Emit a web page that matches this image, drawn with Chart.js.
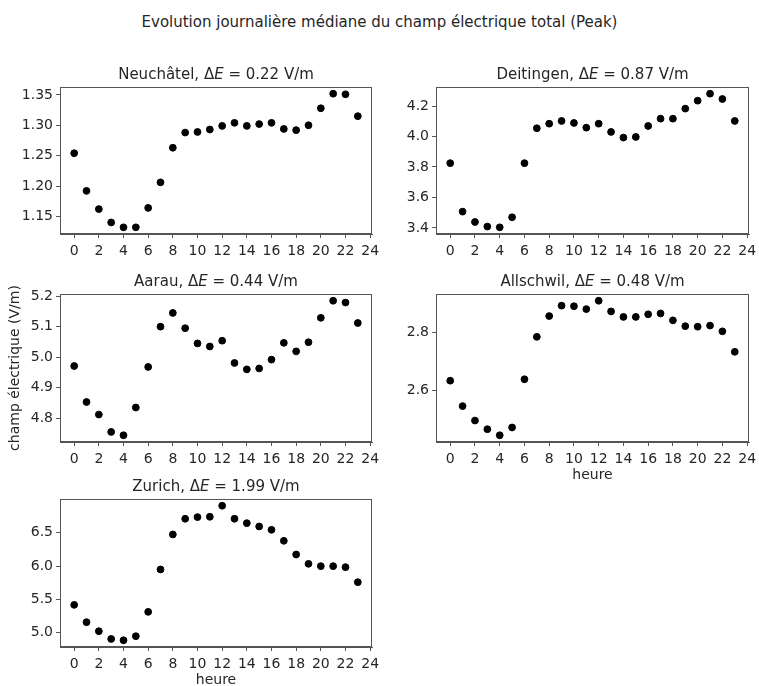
<!DOCTYPE html>
<html>
<head>
<meta charset="utf-8">
<script src="https://cdn.jsdelivr.net/npm/chart.js@4/dist/chart.umd.min.js"></script>
<style>
  html, body { margin: 0; padding: 0; background: #fff; overflow: hidden; }
  body { width: 759px; height: 686px; position: relative; font-family: "DejaVu Sans", sans-serif; }
  #suptitle { position: absolute; left: 0; width: 759px; top: 12px; text-align: center;
              font-size: 15px; line-height: 20px; color: #262626; }
  canvas { position: absolute; }
</style>
</head>
<body>
<div id="suptitle">Evolution journalière médiane du champ électrique total (Peak)</div>

<script>
// Hours of the day (x values) and their tick labels
const hours = [0, 1, 2, 3, 4, 5, 6, 7, 8, 9, 10, 11, 12, 13, 14, 15, 16, 17, 18, 19, 20, 21, 22, 23];
const hourTicks = ['0', '2', '4', '6', '8', '10', '12', '14', '16', '18', '20', '22', '24'];

// Median total electric field per hour (V/m), one array per station
const neuchatel = [1.254, 1.192, 1.162, 1.140, 1.132, 1.132, 1.164, 1.206, 1.263, 1.288, 1.289, 1.293,
                   1.299, 1.304, 1.299, 1.302, 1.304, 1.294, 1.292, 1.300, 1.328, 1.352, 1.351, 1.315];
const deitingen = [3.825, 3.507, 3.439, 3.409, 3.404, 3.470, 3.825, 4.054, 4.084, 4.102, 4.089, 4.058,
                   4.084, 4.030, 3.993, 3.997, 4.069, 4.117, 4.117, 4.183, 4.235, 4.281, 4.246, 4.102];
const aarau     = [4.971, 4.853, 4.812, 4.755, 4.744, 4.835, 4.968, 5.100, 5.145, 5.095, 5.045, 5.035,
                   5.054, 4.981, 4.960, 4.963, 4.992, 5.047, 5.019, 5.049, 5.129, 5.185, 5.179, 5.112];
const allschwil = [2.634, 2.546, 2.496, 2.466, 2.445, 2.472, 2.639, 2.786, 2.858, 2.894, 2.892, 2.882,
                   2.911, 2.874, 2.855, 2.855, 2.864, 2.867, 2.843, 2.823, 2.821, 2.825, 2.805, 2.734];
const zurich    = [5.417, 5.157, 5.021, 4.905, 4.885, 4.946, 5.312, 5.949, 6.475, 6.711, 6.736, 6.741,
                   6.907, 6.711, 6.645, 6.595, 6.545, 6.380, 6.174, 6.034, 5.999, 5.999, 5.984, 5.758];

// Station names, daily amplitude labels and y tick labels
const stations = ['Neuchâtel', 'Deitingen', 'Aarau', 'Allschwil', 'Zurich'];
const deltaE   = ['0.22', '0.87', '0.44', '0.48', '1.99'];
const neuchatelTicks = ['1.15', '1.20', '1.25', '1.30', '1.35'];
const deitingenTicks = ['3.4', '3.6', '3.8', '4.0', '4.2'];
const aarauTicks     = ['4.8', '4.9', '5.0', '5.1', '5.2'];
const allschwilTicks = ['2.6', '2.8'];
const zurichTicks    = ['5.0', '5.5', '6.0', '6.5'];

const yLabel = 'champ électrique (V/m)';
const xLabel = 'heure';

const TEXT = '#262626';
const LINE = '#555';
const FONT = '"DejaVu Sans", sans-serif';

// Frame around the plotting area plus the "Station, ΔE = x V/m" heading (italic E)
const framePlugin = {
  id: 'frame',
  afterDraw(chart, args, opts) {
    const { ctx, chartArea: a } = chart;
    ctx.save();
    ctx.strokeStyle = LINE;
    ctx.lineWidth = 1;
    ctx.strokeRect(Math.round(a.left) + 0.5, Math.round(a.top) + 0.5,
                   Math.round(a.right - a.left) - 1, Math.round(a.bottom - a.top) - 1);
    const parts = [
      { t: opts.name + ', Δ', f: '15px ' + FONT },
      { t: 'E', f: 'italic 15px ' + FONT },
      { t: ' = ' + opts.delta + ' V/m', f: '15px ' + FONT }
    ];
    let w = 0;
    parts.forEach(p => { ctx.font = p.f; p.w = ctx.measureText(p.t).width; w += p.w; });
    let x = (a.left + a.right) / 2 - w / 2;
    const y = a.top - 12;
    ctx.fillStyle = TEXT;
    ctx.textBaseline = 'middle';
    ctx.textAlign = 'left';
    parts.forEach(p => { ctx.font = p.f; ctx.fillText(p.t, x, y); x += p.w; });
    ctx.restore();
  }
};

function makePanel(opts) {
  const { values, ticks, name, delta, box, showY, showX } = opts;
  const padL = box.l, padT = 40, padR = 14, padB = showX ? 46 : 28;
  const canvas = document.createElement('canvas');
  const W = box.r - box.l + padL + padR;
  const H = box.b - box.t + padT + padB;
  canvas.width = W; canvas.height = H;
  canvas.style.left = (box.l - padL) + 'px';
  canvas.style.top = (box.t - padT) + 'px';
  canvas.style.width = W + 'px';
  canvas.style.height = H + 'px';
  document.body.appendChild(canvas);

  // axis limits with a 5 % margin around the data
  const lo = Math.min(...values), hi = Math.max(...values);
  const m = (hi - lo) * 0.05;

  new Chart(canvas, {
    type: 'scatter',
    data: {
      datasets: [{
        data: hours.map((h, i) => ({ x: h, y: values[i] })),
        backgroundColor: '#000',
        borderColor: '#000',
        pointRadius: 3.4,
        pointHoverRadius: 3.4,
        showLine: false
      }]
    },
    options: {
      responsive: false,
      animation: false,
      devicePixelRatio: 1,
      layout: { padding: { top: padT, right: padR, left: 0, bottom: 0 } },
      plugins: {
        legend: { display: false },
        tooltip: { enabled: false },
        frame: { name, delta }
      },
      scales: {
        x: {
          type: 'linear',
          min: -1.15, max: 24.15,
          afterBuildTicks: ax => { ax.ticks = hourTicks.map(t => ({ value: parseFloat(t) })); },
          afterFit: ax => { ax.height = padB; },
          ticks: { color: TEXT, font: { family: FONT, size: 14 }, padding: 5, maxRotation: 0,
                   autoSkip: false, callback: v => String(v) },
          grid: { drawOnChartArea: false, drawTicks: true, tickLength: 4, tickColor: LINE },
          border: { display: true, color: LINE },
          title: { display: !!showX, text: xLabel, color: TEXT, font: { family: FONT, size: 14 },
                   padding: { top: 0, bottom: 4 } }
        },
        y: {
          type: 'linear',
          min: lo - m, max: hi + m,
          afterBuildTicks: ax => { ax.ticks = ticks.map(t => ({ value: parseFloat(t) })); },
          afterFit: ax => { ax.width = padL; },
          ticks: { color: TEXT, font: { family: FONT, size: 14 }, padding: 3, autoSkip: false,
                   callback: (v, i) => ticks[i] },
          grid: { drawOnChartArea: false, drawTicks: true, tickLength: 4, tickColor: LINE },
          border: { display: true, color: LINE },
          title: { display: !!showY, text: yLabel, color: TEXT, font: { family: FONT, size: 14 },
                   padding: { top: 7, bottom: 0 } }
        }
      }
    },
    plugins: [framePlugin]
  });
}

const col1 = { l: 60, r: 372 }, col2 = { l: 436, r: 749 };
const row1 = { t: 87, b: 234 }, row2 = { t: 294, b: 442 }, row3 = { t: 499, b: 647 };

makePanel({ values: neuchatel, ticks: neuchatelTicks, name: stations[0], delta: deltaE[0],
            box: { ...col1, ...row1 } });
makePanel({ values: deitingen, ticks: deitingenTicks, name: stations[1], delta: deltaE[1],
            box: { ...col2, ...row1 } });
makePanel({ values: aarau, ticks: aarauTicks, name: stations[2], delta: deltaE[2],
            box: { ...col1, ...row2 }, showY: true });
makePanel({ values: allschwil, ticks: allschwilTicks, name: stations[3], delta: deltaE[3],
            box: { ...col2, ...row2 }, showX: true });
makePanel({ values: zurich, ticks: zurichTicks, name: stations[4], delta: deltaE[4],
            box: { ...col1, ...row3 }, showX: true });
</script>
</body>
</html>
